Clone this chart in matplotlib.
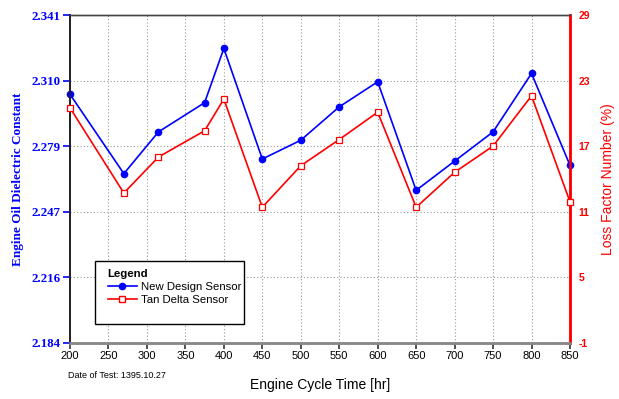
import numpy as np
import matplotlib
matplotlib.use("Agg")
import matplotlib.pyplot as plt
from matplotlib.lines import Line2D
from matplotlib.patches import Rectangle

# Engine cycle time (hr) and sensor readings
cycle_time = [200, 270, 315, 375, 400, 450, 500, 550, 600, 650, 700, 750, 800, 850]
dielectric_constant = [2.303, 2.265, 2.285, 2.299, 2.325, 2.272, 2.281, 2.297,
                       2.309, 2.257, 2.271, 2.285, 2.313, 2.269]
loss_factor = [20.5, 12.7, 16.0, 18.4, 21.3, 11.4, 15.2, 17.6, 20.1, 11.4,
               14.6, 17.0, 21.6, 11.9]

x_ticks = [200, 250, 300, 350, 400, 450, 500, 550, 600, 650, 700, 750, 800, 850]
left_tick_labels = ["2.184", "2.216", "2.247", "2.279", "2.310", "2.341"]
right_ticks = [-1, 5, 11, 17, 23, 29]

BLUE = "#0000ff"
RED = "#ff0000"

fig = plt.figure(figsize=(6.19, 3.99), dpi=100)
ax = fig.add_axes([0.1131, 0.1411, 0.8077, 0.8213])
ax2 = ax.twinx()

ax.set_xlim(200, 850)
ax.set_ylim(2.184, 2.341)
ax2.set_ylim(-1, 29)

# grid
grid_kw = dict(color="#9a9a9a", linestyle=(0, (1, 2)), linewidth=0.8, zorder=0)
for xv in x_ticks[1:-1]:
    ax.axvline(xv, **grid_kw)
left_pos = np.linspace(2.184, 2.341, len(left_tick_labels))
for yv in left_pos[1:-1]:
    ax.axhline(yv, **grid_kw)

# series
ax.plot(cycle_time, dielectric_constant, color=BLUE, lw=1.2, marker="o",
        ms=4.5, mfc=BLUE, mec=BLUE, zorder=3, clip_on=False)
ax2.plot(cycle_time, loss_factor, color=RED, lw=1.2, marker="s", ms=5,
         mfc="white", mec=RED, mew=0.9, zorder=3, clip_on=False)

# x axis
ax.set_xticks(x_ticks)
ax.set_xticklabels([str(v) for v in x_ticks], fontsize=8, family="Liberation Sans")
ax.tick_params(axis="x", direction="out", length=4, width=1.2, color="#333333", pad=2)
ax.set_xlabel("Engine Cycle Time [hr]", fontsize=10, family="Liberation Sans",
              labelpad=12)

# left axis
ax.set_yticks(left_pos)
ax.set_yticklabels(left_tick_labels, fontsize=9.3, family="Liberation Serif",
                   fontweight="bold", color=BLUE)
ax.tick_params(axis="y", direction="out", length=5, width=1.2, color=BLUE, pad=1.5)
ax.set_ylabel("Engine Oil Dielectric Constant", fontsize=9.5, family="Liberation Serif",
              fontweight="bold", color=BLUE, labelpad=6)

# right axis
ax2.set_yticks(right_ticks)
ax2.set_yticklabels([str(v) for v in right_ticks], fontsize=7.5, family="Liberation Sans",
                    fontweight="bold", color=RED)
ax2.tick_params(axis="y", direction="out", length=0, pad=6)
ax2.set_ylabel("Loss Factor Number (%)", fontsize=10, family="Liberation Sans",
               color=RED, labelpad=8)

for a in (ax, ax2):
    a.spines["left"].set_color("#222222")
    a.spines["left"].set_linewidth(1.3)
    a.spines["bottom"].set_color("#888888")
    a.spines["bottom"].set_linewidth(1.8)
    a.spines["top"].set_color("#444444")
    a.spines["top"].set_linewidth(1.0)
    a.spines["right"].set_color(RED)
    a.spines["right"].set_linewidth(1.8)

# legend box
box = Rectangle((0.05, 0.057), 0.298, 0.192, transform=ax2.transAxes,
                facecolor="white", edgecolor="black", linewidth=1.0, zorder=4)
ax2.add_patch(box)

handles = [
    Line2D([], [], color=BLUE, lw=1.2, marker="o", ms=4.5, mfc=BLUE, mec=BLUE),
    Line2D([], [], color=RED, lw=1.2, marker="s", ms=5, mfc="white", mec=RED),
]
leg = ax2.legend(handles, ["New Design Sensor", "Tan Delta Sensor"],
                 title="Legend", loc="upper left",
                 bbox_to_anchor=(0.065, 0.240), frameon=False,
                 alignment="left", prop={"family": "Liberation Sans", "size": 8.2},
                 title_fontproperties={"family": "Liberation Sans", "size": 8.2,
                                       "weight": "bold"},
                 handlelength=2.6, handletextpad=0.3, labelspacing=0.25,
                 borderpad=0.45, borderaxespad=0)
leg.set_zorder(5)

fig.text(68 / 619, 1 - 376 / 399, "Date of Test: 1395.10.27", fontsize=6.5,
         family="Liberation Sans", va="center", ha="left")

fig.savefig("out.png", dpi=100)
